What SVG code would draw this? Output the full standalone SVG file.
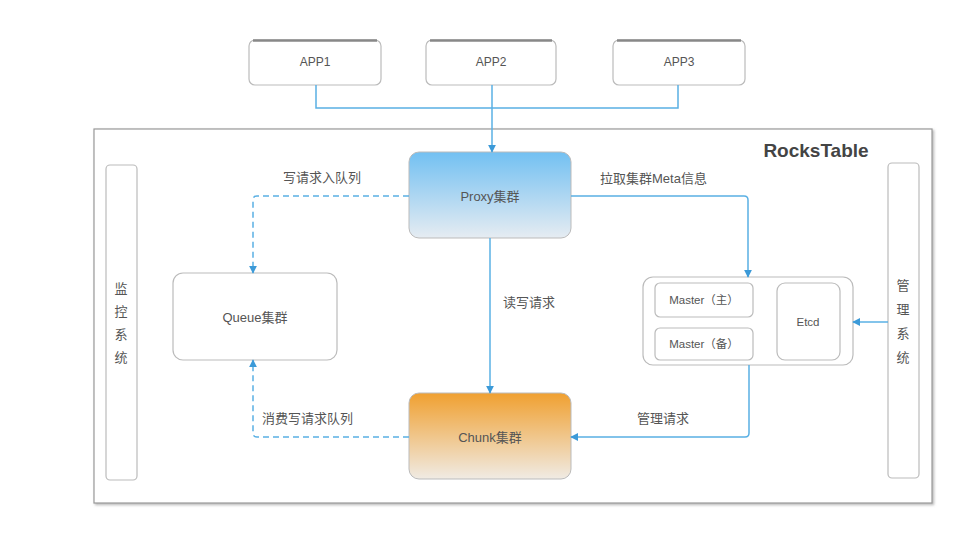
<svg xmlns="http://www.w3.org/2000/svg" width="966" height="536" viewBox="0 0 966 536">
<defs>
<linearGradient id="gBlue" x1="0" y1="0" x2="0" y2="1">
<stop offset="0" stop-color="#72c0f2"/><stop offset="1" stop-color="#e6ecf2"/>
</linearGradient>
<linearGradient id="gOrange" x1="0" y1="0" x2="0" y2="1">
<stop offset="0" stop-color="#f0a030"/><stop offset="1" stop-color="#f0ebe4"/>
</linearGradient>
<marker id="arr" viewBox="0 0 10 10" refX="9" refY="5" markerWidth="8" markerHeight="8" orient="auto" markerUnits="userSpaceOnUse">
<path d="M0,0 L10,5 L0,10 z" fill="#3c9ad8"/>
</marker>
<filter id="sh" x="-5%" y="-5%" width="115%" height="115%">
<feDropShadow dx="1.5" dy="1.5" stdDeviation="1" flood-color="#888" flood-opacity="0.6"/>
</filter>
</defs>
<style>
text{font-family:"Liberation Sans","Noto Sans CJK SC",sans-serif;fill:#555;}
.box{fill:#fff;stroke:#bbb;stroke-width:1.2;}
.lbl{font-size:13px;}
.small{font-size:11.5px;}
.c{text-anchor:middle;dominant-baseline:central;}
.ln{fill:none;stroke:#5ab0e4;stroke-width:1.5;}
.dash{stroke-dasharray:6,4;}
</style>
<rect width="966" height="536" fill="#fff"/>

<g id="rockstable">
<rect x="94" y="129" width="838" height="374" fill="#fff" stroke="#999" stroke-width="1.2" filter="url(#sh)"/>
<text x="816" y="150" class="c" style="font-size:19px;font-weight:bold;fill:#444">RocksTable</text>
</g>

<g id="app1">
<rect x="249" y="40" width="132" height="45" rx="6" class="box"/>
<line x1="253" y1="40.5" x2="377" y2="40.5" stroke="#888" stroke-width="2.5"/>
<text x="315" y="62" class="c" style="font-size:12px">APP1</text>
</g>
<g id="app2">
<rect x="426" y="40" width="130" height="45" rx="6" class="box"/>
<line x1="430" y1="40.5" x2="552" y2="40.5" stroke="#888" stroke-width="2.5"/>
<text x="491" y="62" class="c" style="font-size:12px">APP2</text>
</g>
<g id="app3">
<rect x="613" y="40" width="132" height="45" rx="6" class="box"/>
<line x1="617" y1="40.5" x2="741" y2="40.5" stroke="#888" stroke-width="2.5"/>
<text x="679" y="62" class="c" style="font-size:12px">APP3</text>
</g>

<g id="monitor">
<rect x="106" y="165" width="31" height="315" rx="4" class="box"/>
<text x="121" y="288" class="c lbl">监</text>
<text x="121" y="311" class="c lbl">控</text>
<text x="121" y="334" class="c lbl">系</text>
<text x="121" y="357" class="c lbl">统</text>
</g>

<g id="mgmt">
<rect x="888" y="163" width="31" height="315" rx="4" class="box"/>
<text x="903" y="285" class="c lbl">管</text>
<text x="903" y="309" class="c lbl">理</text>
<text x="903" y="333" class="c lbl">系</text>
<text x="903" y="357" class="c lbl">统</text>
</g>

<g id="proxy">
<rect x="409" y="152" width="162" height="86" rx="10" fill="url(#gBlue)" stroke="#bbb" stroke-width="1"/>
<text x="490" y="196" class="c lbl">Proxy集群</text>
</g>

<g id="queue">
<rect x="173" y="273" width="164" height="87" rx="10" class="box"/>
<text x="255" y="317" class="c lbl">Queue集群</text>
</g>

<g id="chunk">
<rect x="409" y="393" width="162" height="86" rx="10" fill="url(#gOrange)" stroke="#bbb" stroke-width="1"/>
<text x="490" y="437" class="c lbl">Chunk集群</text>
</g>

<g id="master-group">
<rect x="643" y="277" width="210" height="88" rx="10" class="box"/>
<g id="master-main">
<rect x="655" y="283" width="98" height="34" rx="5" class="box"/>
<text x="704" y="300" class="c small">Master（主）</text>
</g>
<g id="master-backup">
<rect x="655" y="328" width="98" height="32" rx="5" class="box"/>
<text x="704" y="344" class="c small">Master（备）</text>
</g>
<g id="etcd">
<rect x="777" y="283" width="63" height="77" rx="8" class="box"/>
<text x="808" y="322" class="c small">Etcd</text>
</g>
</g>

<g id="connectors">
<path d="M316,85 V108 H678 V85" class="ln"/>
<path d="M492,85 V152" class="ln" marker-end="url(#arr)"/>
<path d="M571,196 H744 Q748,196 748,200 V277" class="ln" marker-end="url(#arr)"/>
<path d="M409,196 H257 Q253,196 253,200 V273" class="ln dash" marker-end="url(#arr)"/>
<path d="M490,238 V393" class="ln" marker-end="url(#arr)"/>
<path d="M409,437 H257 Q253,437 253,433 V360" class="ln dash" marker-end="url(#arr)"/>
<path d="M749,365 V433 Q749,437 745,437 H571" class="ln" marker-end="url(#arr)"/>
<path d="M888,322 H853" class="ln" marker-end="url(#arr)"/>
</g>

<g id="labels">
<text x="322" y="177" class="c lbl">写请求入队列</text>
<text x="600" y="178" class="lbl" dominant-baseline="central">拉取集群Meta信息</text>
<text x="503" y="302" class="lbl" dominant-baseline="central">读写请求</text>
<text x="262" y="418" class="lbl" dominant-baseline="central">消费写请求队列</text>
<text x="637" y="418" class="lbl" dominant-baseline="central">管理请求</text>
</g>
</svg>
